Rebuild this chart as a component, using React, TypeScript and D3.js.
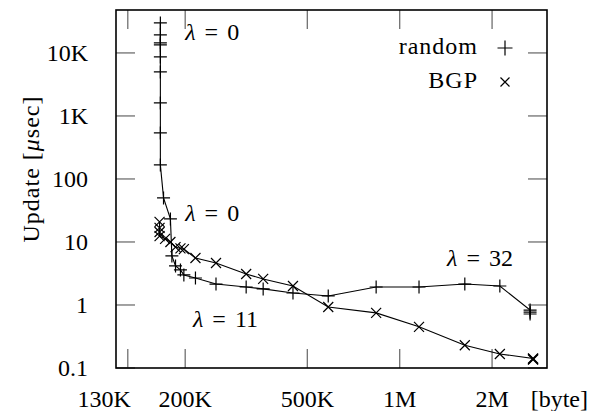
import * as d3 from 'd3';

// message size [K bytes] and update time [usec]
const randomSize = [166, 166, 166, 166, 166, 166, 166, 166, 166, 170, 179, 181, 186, 193, 198, 216, 252, 316, 359, 449, 585, 838, 1156, 1630, 2120, 2660, 2660, 2660];
const randomTime = [29900, 19300, 14400, 13400, 8650, 5000, 1610, 537, 167, 50, 23.2, 6.0, 4.16, 3.6, 3.0, 2.68, 2.15, 1.93, 1.8, 1.55, 1.39, 1.93, 1.93, 2.15, 2.0, 0.83, 0.77, 0.72];

const bgpSize = [165, 165, 165, 165, 172, 179, 186, 193, 198, 216, 252, 316, 359, 449, 585, 838, 1156, 1630, 2120, 2720, 2720, 2720];
const bgpTime = [20.8, 16.7, 14.4, 12.4, 11.2, 10.0, 8.3, 7.9, 7.7, 5.57, 4.64, 3.1, 2.59, 2.0, 0.93, 0.75, 0.45, 0.23, 0.167, 0.142, 0.139, 0.136];

const xTicks = [130, 200, 500, 1000, 2000];
const xTickLabels = ['130K', '200K', '500K', '1M', '2M'];
const yTicks = [0.1, 1, 10, 100, 1000, 10000];
const yTickLabels = ['0.1', '1', '10', '100', '1K', '10K'];

// lambda annotations, anchored at (size, time) = left / baseline of the text
const lambdaSize = [200, 200, 212, 1426];
const lambdaTime = [16000, 21.5, 0.448, 4.16];
const lambdaValue = ['0', '0', '11', '32'];

const plusPath = 'M-6.5,0H6.5M0,-6.5V6.5';
const crossPath = 'M-5,-5L5,5M-5,5L5,-5';

const App = () => {
  const width = 590;
  const height = 411;
  const margin = { top: 10, right: 43, bottom: 43, left: 116 };
  const font = "'Liberation Serif', 'DejaVu Serif', serif";
  const fs = 24;

  const x = d3.scaleLog()
    .domain([119, 3020])
    .range([margin.left, width - margin.right]);
  const y = d3.scaleLog()
    .domain([0.1, 48000])
    .range([height - margin.bottom, margin.top]);

  const [x0, x1] = x.range();
  const [y0, y1] = y.range();
  const tickLen = 19;

  const line = d3.line<[number, number]>()
    .x(d => x(d[0]))
    .y(d => y(d[1]));

  const randomPts = randomSize.map((s, i) => [s, randomTime[i]] as [number, number]);
  const bgpPts = bgpSize.map((s, i) => [s, bgpTime[i]] as [number, number]);

  return (
    <svg width={width} height={height} style={{ position: 'absolute', left: 0, top: 0, fontFamily: font }}>
      <rect width={width} height={height} fill="#fff" />

      {/* ticks on all four sides */}
      <g stroke="#707070" strokeWidth={1.3}>
        {xTicks.map(t => (
          <g key={'x' + t}>
            <line x1={x(t)} x2={x(t)} y1={y0} y2={y0 - tickLen} />
            <line x1={x(t)} x2={x(t)} y1={y1} y2={y1 + tickLen} />
          </g>
        ))}
        {yTicks.map(t => (
          <g key={'y' + t}>
            <line x1={x0} x2={x0 + tickLen} y1={y(t)} y2={y(t)} />
            <line x1={x1} x2={x1 - tickLen} y1={y(t)} y2={y(t)} />
          </g>
        ))}
      </g>

      {/* series */}
      <path d={line(randomPts) ?? ''} fill="none" stroke="#000" strokeWidth={1.1} />
      <path d={line(bgpPts) ?? ''} fill="none" stroke="#000" strokeWidth={1.1} />
      <g stroke="#000" strokeWidth={1.2} fill="none">
        {randomPts.map((d, i) => (
          <path key={'r' + i} d={plusPath} transform={`translate(${x(d[0])},${y(d[1])})`} />
        ))}
        {bgpPts.map((d, i) => (
          <path key={'b' + i} d={crossPath} transform={`translate(${x(d[0])},${y(d[1])})`} />
        ))}
      </g>

      {/* frame */}
      <rect x={x0} y={y1} width={x1 - x0} height={y0 - y1} fill="none" stroke="#000" strokeWidth={1.6} />

      {/* tick labels */}
      <g fontSize={fs} fill="#000" style={{ fontFamily: font }}>
        {xTicks.map((t, i) => (
          // the first label sits left of its tick, as in the original
          <text key={'xl' + t} x={i === 0 ? x(t) + 3 : x(t)} y={407} textAnchor={i === 0 ? 'end' : 'middle'}>
            {xTickLabels[i]}
          </text>
        ))}
        <text x={588} y={407} textAnchor="end">[byte]</text>
        {yTicks.map((t, i) => (
          <text key={'yl' + t} x={88} y={y(t)} dy="0.33em" textAnchor="end">{yTickLabels[i]}</text>
        ))}
        <text transform="translate(31,169) rotate(-90)" textAnchor="middle" dy="0.33em" letterSpacing={1}>
          Update [<tspan fontStyle="italic">μ</tspan>sec]
        </text>
      </g>

      {/* lambda annotations */}
      <g fontSize={fs} fill="#000" style={{ fontFamily: font }}>
        {lambdaSize.map((s, i) => (
          <text key={'l' + i} x={x(s)} y={y(lambdaTime[i])}>
            <tspan fontStyle="italic">λ</tspan>
            <tspan dx={9}>=</tspan>
            <tspan dx={9}>{lambdaValue[i]}</tspan>
          </text>
        ))}
      </g>

      {/* legend */}
      <g fontSize={fs} fill="#000" style={{ fontFamily: font }}>
        <text x={478} y={46} dy="0.33em" textAnchor="end" letterSpacing={1}>random</text>
        <text x={478} y={80} dy="0.33em" textAnchor="end" letterSpacing={1}>BGP</text>
        <path d="M-7.5,0H7.5M0,-7.5V7.5" transform="translate(505,48)" stroke="#000" strokeWidth={1.2} />
        <path d="M-4.5,-4.5L4.5,4.5M-4.5,4.5L4.5,-4.5" transform="translate(505,82)" stroke="#000" strokeWidth={1.2} />
      </g>
    </svg>
  );
};

export default App;
